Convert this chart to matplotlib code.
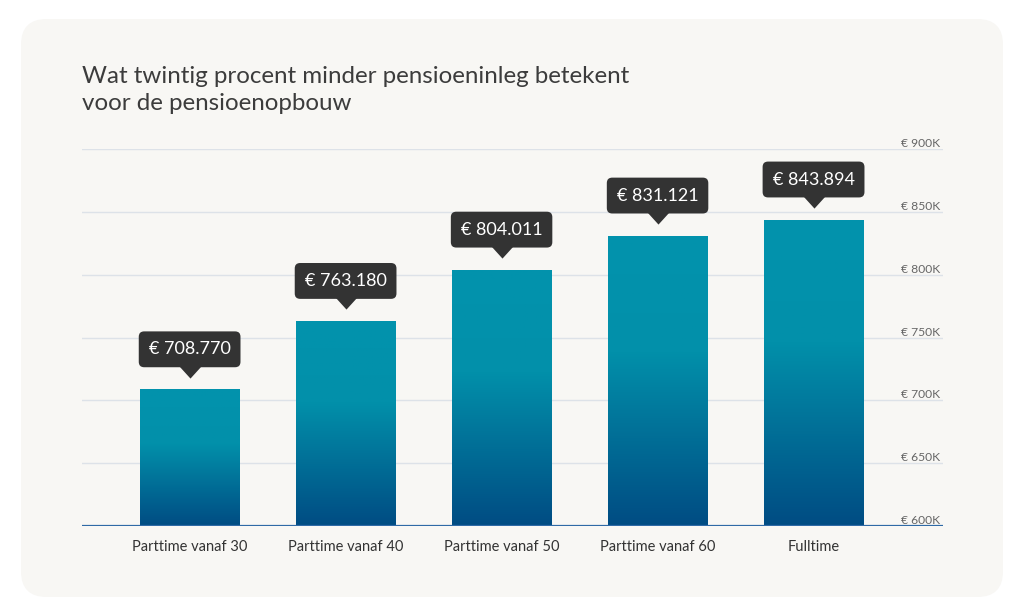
import numpy as np
import matplotlib
matplotlib.use('Agg')
import matplotlib.pyplot as plt
from matplotlib.patches import FancyBboxPatch
from matplotlib.colors import LinearSegmentedColormap
from matplotlib.transforms import ScaledTranslation

plt.rcParams['font.family'] = ['Lato', 'DejaVu Sans']

# data
categories = ['Parttime vanaf 30', 'Parttime vanaf 40', 'Parttime vanaf 50',
              'Parttime vanaf 60', 'Fulltime']
values = [708770, 763180, 804011, 831121, 843894]
value_labels = ['€ 708.770', '€ 763.180', '€ 804.011', '€ 831.121', '€ 843.894']
y_ticks = [600000, 650000, 700000, 750000, 800000, 850000, 900000]
y_tick_labels = ['€ 600K', '€ 650K', '€ 700K', '€ 750K', '€ 800K', '€ 850K', '€ 900K']
title = 'Wat twintig procent minder pensioeninleg betekent\nvoor de pensioenopbouw'

fig = plt.figure(figsize=(10.24, 6.16), dpi=100)
fig.patch.set_facecolor('white')

# achtergrondpaneel met ronde hoeken
panel = FancyBboxPatch((21 / 1024, 19 / 616), 982 / 1024, 578 / 616,
                       boxstyle='round,pad=0,rounding_size=0.025',
                       transform=fig.transFigure, facecolor='#f8f7f4',
                       edgecolor='none', mutation_aspect=1024 / 616,
                       zorder=-10)
fig.patches.append(panel)

ax = fig.add_axes([82 / 1024, 1 - 526 / 616, 861 / 1024, 377 / 616])
ax.set_facecolor('none')
ax.set_zorder(1)

x = np.arange(len(categories))

# gradient voor de staven
cmap = LinearSegmentedColormap.from_list(
    'blauw', [(0, '#004c83'), (0.6, '#0290aa'), (1, '#0293ad')])
grad = np.linspace(0, 1, 256).reshape(-1, 1)

bars = ax.bar(x, np.array(values) - 600000, bottom=600000, width=0.64,
              color='#0290aa', zorder=2)
for b in bars:
    x0, w, h = b.get_x(), b.get_width(), b.get_height()
    img = ax.imshow(grad, cmap=cmap, origin='lower', aspect='auto',
                    extent=[x0, x0 + w, 600000, 600000 + h], zorder=3)
    img.set_clip_path(b)
ax.set_xlim(-0.69, 4.83)
ax.set_ylim(600000, 900000)

# rasterlijnen
for t in y_ticks[1:]:
    ax.axhline(t, color='#dde2e8', lw=1, zorder=1)
ax.axhline(600000, color='#2f6aa6', lw=1.6, zorder=4)

for t, lab in zip(y_ticks, y_tick_labels):
    ax.text(0.997, t, lab, transform=ax.get_yaxis_transform(), ha='right',
            va='bottom', fontsize=8.7, color='#666666')

# waardelabels met pijltje
pointer = [(-1, 0), (1, 0), (0, -1.1)]
off = ScaledTranslation(0, 17 / 72, fig.dpi_scale_trans)
for i, (v, lab) in enumerate(zip(values, value_labels)):
    ax.annotate(lab, xy=(i, v), xytext=(0, 28.8), textcoords='offset points',
                ha='center', va='center', fontsize=13, color='white',
                bbox=dict(boxstyle='round,pad=0.55,rounding_size=0.3',
                          fc='#333333', ec='none'),
                zorder=6, annotation_clip=False)
    ax.plot(i, v, marker=pointer, ms=17.4, color='#333333', mec='none',
            transform=ax.transData + off, clip_on=False, zorder=5)

ax.set_xticks(x)
ax.set_xticklabels(categories, fontsize=10.5, color='#333333')
ax.tick_params(axis='x', length=0, pad=10)
ax.set_yticks([])
for s in ax.spines.values():
    s.set_visible(False)

fig.text(82 / 1024, 1 - 66 / 616, title, ha='left', va='top', fontsize=17.4,
         color='#3c3c3c', linespacing=1.35)

fig.savefig('out.png', dpi=100)
